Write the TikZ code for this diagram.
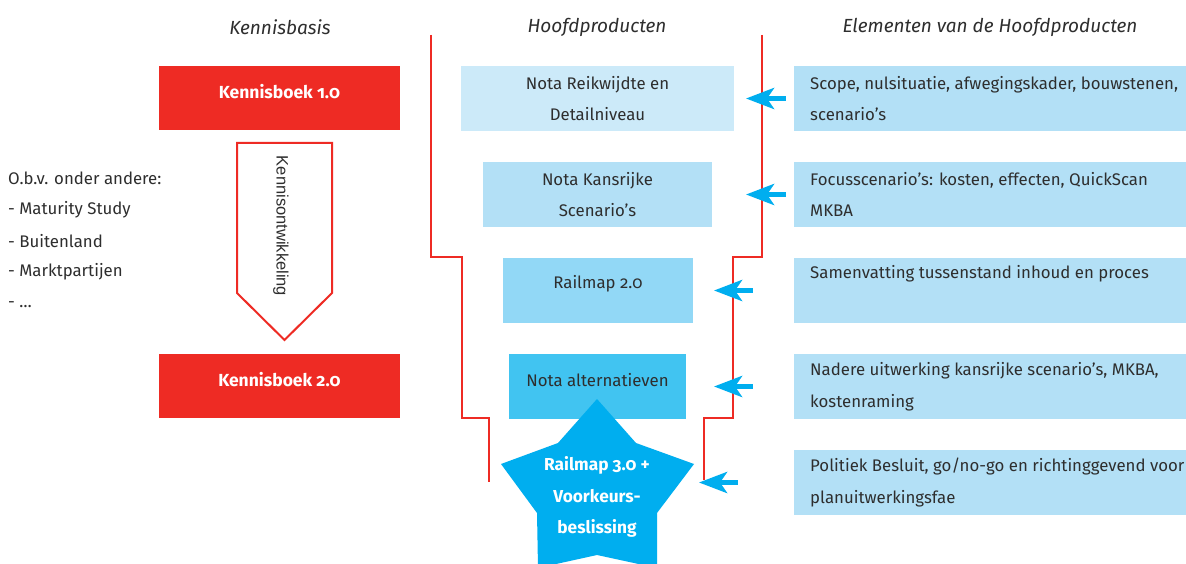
\documentclass[tikz,border=0pt]{standalone}
\usepackage{fontspec}
\setmainfont{Fira Sans}[Numbers=OldStyle]
\newfontfamily\arialfont{Liberation Sans}
\usetikzlibrary{arrows.meta}
\definecolor{rored}{HTML}{EE2B24}
\definecolor{rotext}{HTML}{2E2E2E}
\definecolor{blA}{HTML}{CCEAF9}
\definecolor{blB}{HTML}{B3E0F6}
\definecolor{blC}{HTML}{92D8F6}
\definecolor{blD}{HTML}{41C4F1}
\definecolor{blE}{HTML}{00AEEF}
\tikzset{
  hdr/.style={font=\fontsize{19}{22}\selectfont\itshape, text=rotext, inner sep=0pt},
  txt/.style={font=\fontsize{16.8}{31.5}\selectfont, text=rotext, inner sep=0pt},
  redbox/.style={fill=rored, draw=none, minimum width=241pt, minimum height=64pt, inner sep=0pt},
  redtxt/.style={font=\fontsize{17.5}{20}\selectfont\bfseries, text=white, inner sep=0pt},
  midbox/.style={draw=none, minimum height=65pt, inner sep=0pt},
  rightbox/.style={fill=blB, draw=none, minimum width=392pt, minimum height=65pt, inner sep=0pt},
  redline/.style={draw=rored, line width=2.6pt},
  bluearr/.style={draw=blE, line width=5pt, -{Stealth[length=28pt,width=21pt,inset=7pt]}},
}
\begin{document}
\begin{tikzpicture}[x=1pt,y=-1pt]
\clip (0,0) rectangle (1186,564);
\fill[white] (0,0) rectangle (1186,564);

% headers
\node[hdr] (h1) at (280,27) {Kennisbasis};
\node[hdr] (h2) at (597,27) {Hoofdproducten};
\node[hdr] (h3) at (990,27) {Elementen van de Hoofdproducten};

% Kennisbasis column
\node[redbox] (kb1) at (279.5,98) {};
\node[redtxt] (kb1t) at (279.5,92) {Kennisboek 1.0};
\node[redbox] (kb2) at (279.5,386) {};
\node[redtxt] (kb2t) at (279.5,380) {Kennisboek 2.0};

\draw[draw=rored, line width=2pt, fill=white]
  (237,143) -- (332,143) -- (332,293) -- (284.5,340) -- (237,293) -- cycle;
\node[font=\arialfont\fontsize{16.5}{20}\selectfont, text=rotext, rotate=-90, inner sep=0pt] (ko) at (281,226) {Kennisontwikkeling};

\node[txt, anchor=west] (l1) at (8,178) {O.b.v. onder andere:};
\node[txt, anchor=west] (l2) at (8,210) {- Maturity Study};
\node[txt, anchor=west] (l3) at (8,241) {- Buitenland};
\node[txt, anchor=west] (l4) at (8,272) {- Marktpartijen};
\node[txt, anchor=west] (l5) at (8,305) {- \dots};

% red lines
\draw[redline] (431,35) |- (462,257) |- (489,418) -- (489,482);
\draw[redline] (762,35) |- (733,257) |- (704,418) -- (704,480);

% middle boxes
\node[midbox, fill=blA, minimum width=273pt] (m1) at (597.5,98.5) {};
\node[txt, align=center] (m1t) at (597.5,98.5) {Nota Reikwijdte en\\Detailniveau};
\node[midbox, fill=blB, minimum width=229pt] (m2) at (597.5,194.5) {};
\node[txt, align=center] (m2t) at (597.5,194.5) {Nota Kansrijke\\Scenario’s};
\node[midbox, fill=blC, minimum width=190pt] (m3) at (598,290.5) {};
\node[txt] (m3t) at (598,284) {Railmap 2.0};
\node[midbox, fill=blD, minimum width=177pt] (m4) at (597.5,386.5) {};
\node[txt] (m4t) at (597.5,380) {Nota alternatieven};

% star
\fill[blE] (597,399) -- (636,443) -- (694,464) -- (657,513) -- (657,568) -- (597,555)
  -- (538,568) -- (537,513) -- (501,464) -- (558,443) -- cycle;
\node[txt, text=white, font=\fontsize{17.3}{31.5}\selectfont\bfseries, align=center] (st) at (597,497)
  {Railmap 3.0 +\\Voorkeurs-\\beslissing};

% right boxes
\node[rightbox] (r1) at (990,98.5) {};
\node[txt, anchor=west, align=left] (r1t) at (810,98.5) {Scope, nulsituatie, afwegingskader, bouwstenen,\\scenario’s};
\node[rightbox] (r2) at (990,194.5) {};
\node[txt, anchor=west, align=left] (r2t) at (810,194.5) {Focusscenario’s: kosten, effecten, QuickScan\\MKBA};
\node[rightbox] (r3) at (990,290.5) {};
\node[txt, anchor=west] (r3t) at (810,274) {Samenvatting tussenstand inhoud en proces};
\node[rightbox] (r4) at (990,386.5) {};
\node[txt, anchor=west, align=left] (r4t) at (810,386.5) {Nadere uitwerking kansrijke scenario’s, MKBA,\\kostenraming};
\node[rightbox] (r5) at (990,482.5) {};
\node[txt, anchor=west, align=left] (r5t) at (810,482.5) {Politiek Besluit, go/no-go en richtinggevend voor\\planuitwerkingsfae};

% arrows
\coordinate (t1) at (746,98.5);
\coordinate (t2) at (746,194.5);
\coordinate (t3) at (714,290.5);
\coordinate (t4) at (714,386.5);
\coordinate (t5) at (699,482.5);
\draw[bluearr] ([xshift=-8pt]r1.west) -- (t1);
\draw[bluearr] ([xshift=-8pt]r2.west) -- (t2);
\draw[bluearr] ([xshift=-41pt]r3.west) -- (t3);
\draw[bluearr] ([xshift=-41pt]r4.west) -- (t4);
\draw[bluearr] ([xshift=-56pt]r5.west) -- (t5);
\end{tikzpicture}
\end{document}
